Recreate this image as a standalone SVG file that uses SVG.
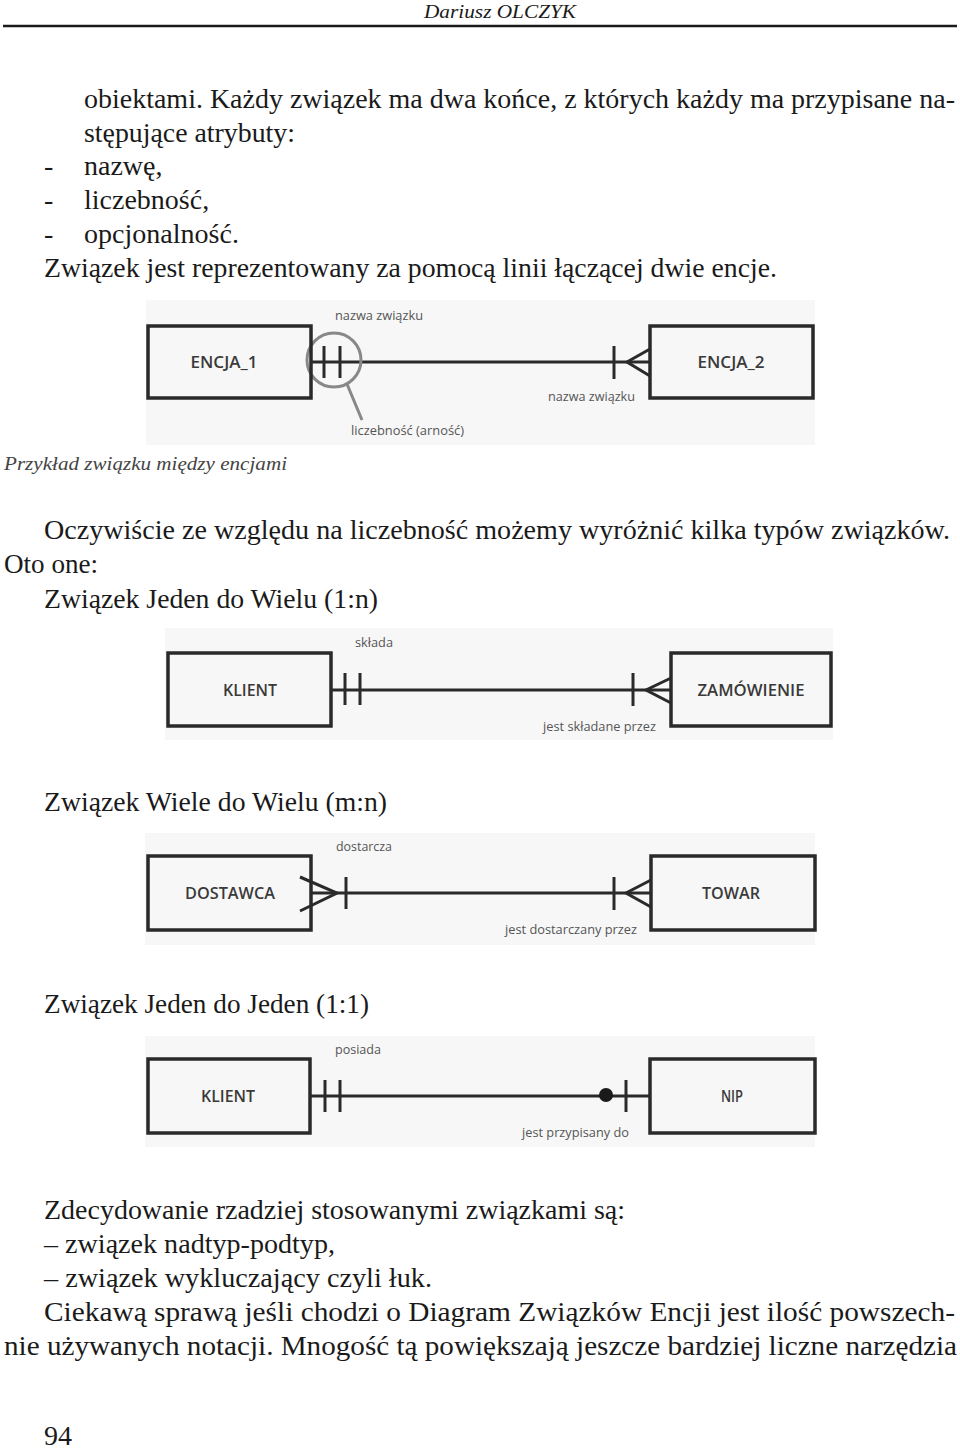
<svg xmlns="http://www.w3.org/2000/svg" width="960" height="1449" viewBox="0 0 960 1449">
<style>
.body{font-family:"Liberation Serif","Times New Roman",serif;font-size:28px;fill:#1a1a1a}
.hdr{font-family:"Liberation Serif",serif;font-size:19px;font-style:italic;fill:#1a1a1a}
.cap{font-family:"Liberation Serif",serif;font-size:19px;font-style:italic;fill:#444}
.bg{fill:#f7f7f7}
.ent{fill:none;stroke:#2a2a2a;stroke-width:3.5}
.en{font-family:"Open Sans","Liberation Sans",sans-serif;font-weight:600;font-size:17px;fill:#3a3a3a;text-anchor:middle}
.lbl{font-family:"Open Sans","Liberation Sans",sans-serif;font-size:12px;fill:#555}
.ln{fill:none;stroke:#2a2a2a;stroke-width:3}
</style>
<rect width="960" height="1449" fill="#ffffff"/>
<text class="hdr" x="424" y="18" textLength="152" lengthAdjust="spacingAndGlyphs">Dariusz OLCZYK</text>
<line x1="3" y1="26" x2="957" y2="26" stroke="#1a1a1a" stroke-width="2.5"/>

<text class="body" x="84" y="108" textLength="871" lengthAdjust="spacingAndGlyphs">obiektami. Każdy związek ma dwa końce, z których każdy ma przypisane na-</text>
<text class="body" x="84" y="142" textLength="211" lengthAdjust="spacingAndGlyphs">stępujące atrybuty:</text>
<text class="body" x="44" y="175">-</text>
<text class="body" x="84" y="175">nazwę,</text>
<text class="body" x="44" y="209">-</text>
<text class="body" x="84" y="209">liczebność,</text>
<text class="body" x="44" y="243">-</text>
<text class="body" x="84" y="243" textLength="155" lengthAdjust="spacingAndGlyphs">opcjonalność.</text>
<text class="body" x="44" y="277" textLength="733" lengthAdjust="spacingAndGlyphs">Związek jest reprezentowany za pomocą linii łączącej dwie encje.</text>

<g id="diagram1">
<rect class="bg" x="146" y="300" width="669" height="145"/>
<g id="d1-connectors">
<line class="ln" x1="311" y1="362" x2="650" y2="362"/>
<line class="ln" x1="324" y1="346" x2="324" y2="378"/>
<line class="ln" x1="340" y1="346" x2="340" y2="378"/>
<line class="ln" x1="614" y1="346" x2="614" y2="379"/>
<polyline class="ln" points="650,349 627,362 650,376"/>
<circle cx="334" cy="360" r="27" fill="none" stroke="#888" stroke-width="3"/>
<line x1="347" y1="384" x2="362" y2="420" stroke="#888" stroke-width="3"/>
</g>
<g id="encja1"><rect class="ent" x="148" y="326" width="163" height="72"/><text class="en" x="224" y="368" textLength="67" lengthAdjust="spacingAndGlyphs">ENCJA_1</text></g>
<g id="encja2"><rect class="ent" x="650" y="326" width="163" height="72"/><text class="en" x="731" y="368" textLength="67" lengthAdjust="spacingAndGlyphs">ENCJA_2</text></g>
<text class="lbl" x="335" y="320" textLength="88" lengthAdjust="spacingAndGlyphs">nazwa związku</text>
<text class="lbl" x="548" y="401" textLength="87" lengthAdjust="spacingAndGlyphs">nazwa związku</text>
<text class="lbl" x="351" y="435" textLength="113" lengthAdjust="spacingAndGlyphs">liczebność (arność)</text>
</g>

<text class="cap" x="4" y="470" textLength="283" lengthAdjust="spacingAndGlyphs">Przykład związku między encjami</text>

<text class="body" x="44" y="539" textLength="906" lengthAdjust="spacingAndGlyphs">Oczywiście ze względu na liczebność możemy wyróżnić kilka typów związków.</text>
<text class="body" x="4" y="573" textLength="94" lengthAdjust="spacingAndGlyphs">Oto one:</text>
<text class="body" x="44" y="608" textLength="334" lengthAdjust="spacingAndGlyphs">Związek Jeden do Wielu (1:n)</text>

<g id="diagram2">
<rect class="bg" x="165" y="628" width="668" height="112"/>
<g id="d2-connectors">
<line class="ln" x1="331" y1="690" x2="671" y2="690"/>
<line class="ln" x1="345" y1="673" x2="345" y2="705"/>
<line class="ln" x1="360" y1="673" x2="360" y2="705"/>
<line class="ln" x1="633" y1="673" x2="633" y2="706"/>
<polyline class="ln" points="671,678 646,690 671,703"/>
</g>
<g id="klient1"><rect class="ent" x="168" y="653" width="163" height="73"/><text class="en" x="250" y="696" textLength="54" lengthAdjust="spacingAndGlyphs">KLIENT</text></g>
<g id="zamowienie"><rect class="ent" x="671" y="653" width="160" height="73"/><text class="en" x="751" y="696" textLength="107" lengthAdjust="spacingAndGlyphs">ZAMÓWIENIE</text></g>
<text class="lbl" x="355" y="647" textLength="38" lengthAdjust="spacingAndGlyphs">składa</text>
<text class="lbl" x="543" y="731" textLength="113" lengthAdjust="spacingAndGlyphs">jest składane przez</text>
</g>

<text class="body" x="44" y="811" textLength="343" lengthAdjust="spacingAndGlyphs">Związek Wiele do Wielu (m:n)</text>

<g id="diagram3">
<rect class="bg" x="145" y="833" width="670" height="112"/>
<g id="d3-connectors">
<line class="ln" x1="311" y1="893" x2="651" y2="893"/>
<polyline class="ln" points="300,877 337,893 300,911"/>
<line class="ln" x1="346" y1="877" x2="346" y2="909"/>
<line class="ln" x1="614" y1="877" x2="614" y2="910"/>
<polyline class="ln" points="651,880 626,893 651,907"/>
</g>
<g id="dostawca"><rect class="ent" x="148" y="856" width="163" height="74"/><text class="en" x="230" y="899" textLength="90" lengthAdjust="spacingAndGlyphs">DOSTAWCA</text></g>
<g id="towar"><rect class="ent" x="651" y="856" width="164" height="74"/><text class="en" x="731" y="899" textLength="58" lengthAdjust="spacingAndGlyphs">TOWAR</text></g>
<text class="lbl" x="336" y="851" textLength="56" lengthAdjust="spacingAndGlyphs">dostarcza</text>
<text class="lbl" x="505" y="934" textLength="132" lengthAdjust="spacingAndGlyphs">jest dostarczany przez</text>
</g>

<text class="body" x="44" y="1013" textLength="325" lengthAdjust="spacingAndGlyphs">Związek Jeden do Jeden (1:1)</text>

<g id="diagram4">
<rect class="bg" x="145" y="1036" width="670" height="111"/>
<g id="d4-connectors">
<line class="ln" x1="310" y1="1096" x2="650" y2="1096"/>
<line class="ln" x1="325" y1="1080" x2="325" y2="1112"/>
<line class="ln" x1="340" y1="1080" x2="340" y2="1112"/>
<circle cx="606" cy="1095" r="7" fill="#1a1a1a"/>
<line class="ln" x1="626" y1="1080" x2="626" y2="1112"/>
</g>
<g id="klient2"><rect class="ent" x="148" y="1059" width="162" height="74"/><text class="en" x="228" y="1102" textLength="54" lengthAdjust="spacingAndGlyphs">KLIENT</text></g>
<g id="nip"><rect class="ent" x="650" y="1059" width="165" height="74"/><text class="en" x="732" y="1102" textLength="22" lengthAdjust="spacingAndGlyphs">NIP</text></g>
<text class="lbl" x="335" y="1054" textLength="46" lengthAdjust="spacingAndGlyphs">posiada</text>
<text class="lbl" x="522" y="1137" textLength="107" lengthAdjust="spacingAndGlyphs">jest przypisany do</text>
</g>

<text class="body" x="44" y="1219" textLength="581" lengthAdjust="spacingAndGlyphs">Zdecydowanie rzadziej stosowanymi związkami są:</text>
<text class="body" x="44" y="1253" textLength="291" lengthAdjust="spacingAndGlyphs">– związek nadtyp-podtyp,</text>
<text class="body" x="44" y="1287" textLength="388" lengthAdjust="spacingAndGlyphs">– związek wykluczający czyli łuk.</text>
<text class="body" x="44" y="1321" textLength="911" lengthAdjust="spacingAndGlyphs">Ciekawą sprawą jeśli chodzi o Diagram Związków Encji jest ilość powszech-</text>
<text class="body" x="4" y="1355" textLength="953" lengthAdjust="spacingAndGlyphs">nie używanych notacji. Mnogość tą powiększają jeszcze bardziej liczne narzędzia</text>
<text class="body" x="44" y="1445" textLength="28" lengthAdjust="spacingAndGlyphs">94</text>
</svg>
